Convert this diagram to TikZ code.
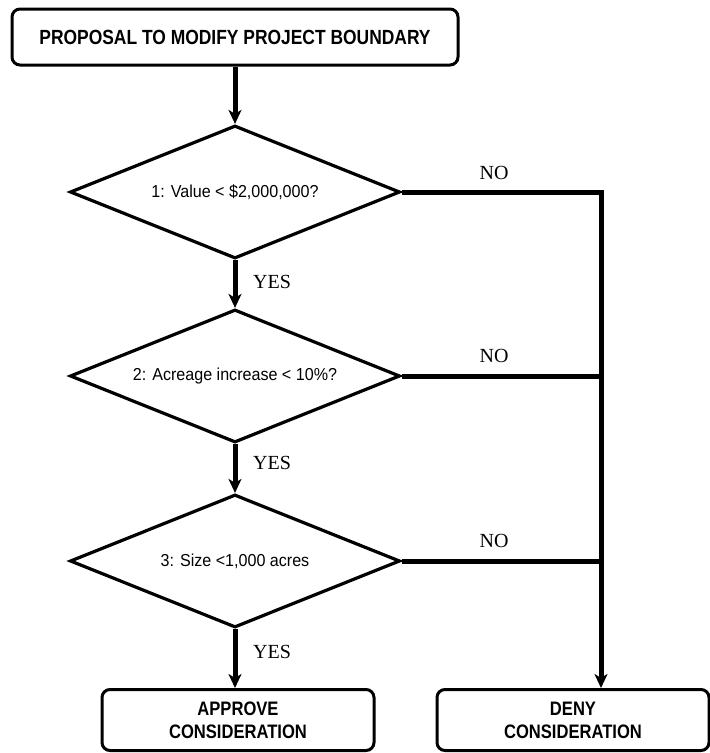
\documentclass[tikz,border=0pt]{standalone}
\usepackage{fontspec}
\setmainfont{Liberation Serif}
\newfontfamily\narrowbold[FakeStretch=0.85]{Liberation Sans Bold}
\newfontfamily\diafont[FakeStretch=0.93]{Liberation Sans}
\usetikzlibrary{shapes.geometric,arrows.meta}
\begin{document}
\begin{tikzpicture}[x=1pt,y=-1pt,
  boxnode/.style={draw,line width=3pt,rounded corners=8pt,inner sep=0pt,align=center},
  decision/.style={draw,diamond,line width=3.2pt,inner sep=0pt,aspect=2.5,
    minimum width=330pt,minimum height=133pt,font=\diafont\fontsize{17.3}{20}\selectfont},
  conn/.style={line width=5pt},
  connarrow/.style={line width=5pt,-{Stealth[length=14pt,width=13pt,inset=4pt]}},
  answer/.style={font=\fontsize{20}{22}\selectfont,inner sep=0pt}]
\useasboundingbox (0,0) rectangle (710,753);
\fill[white] (0,0) rectangle (710,753);

\node[boxnode,minimum width=446pt,minimum height=56pt,
  font=\narrowbold\fontsize{20.5}{24}\selectfont] (start) at (235,37) {PROPOSAL TO MODIFY PROJECT BOUNDARY};

\node[decision] (d1) at (235,192) {1: Value < \$2,000,000?};
\node[decision] (d2) at (235,376) {2: Acreage increase < 10\%?};
\node[decision] (d3) at (235,561) {3: Size <1,000 acres};

\node[boxnode,minimum width=272pt,minimum height=61pt,
  font=\narrowbold\fontsize{19.5}{23}\selectfont] (approve) at (238,720) {APPROVE\\CONSIDERATION};
\node[boxnode,minimum width=272pt,minimum height=61pt,
  font=\narrowbold\fontsize{19.5}{23}\selectfont] (deny) at (573,720) {DENY\\CONSIDERATION};

\coordinate (c1) at (601,192);

\draw[connarrow] (start.south -| d1.north) -- (d1.north);
\draw[connarrow] (d1.south) -- (d2.north);
\draw[connarrow] (d2.south) -- (d3.north);
\draw[connarrow] (d3.south) -- (d3.south |- approve.north);
\draw[connarrow] (d1.east) -- (c1) -- (c1 |- deny.north);
\draw[conn] (d2.east) -- (d2.east -| c1);
\draw[conn] (d3.east) -- (d3.east -| c1);

\node[answer] (yes1) at (272,282) {YES};
\node[answer] (yes2) at (272,463) {YES};
\node[answer] (yes3) at (272,652) {YES};
\node[answer] (no1) at (494,173) {NO};
\node[answer] (no2) at (494,356) {NO};
\node[answer] (no3) at (494,541) {NO};
\end{tikzpicture}
\end{document}
